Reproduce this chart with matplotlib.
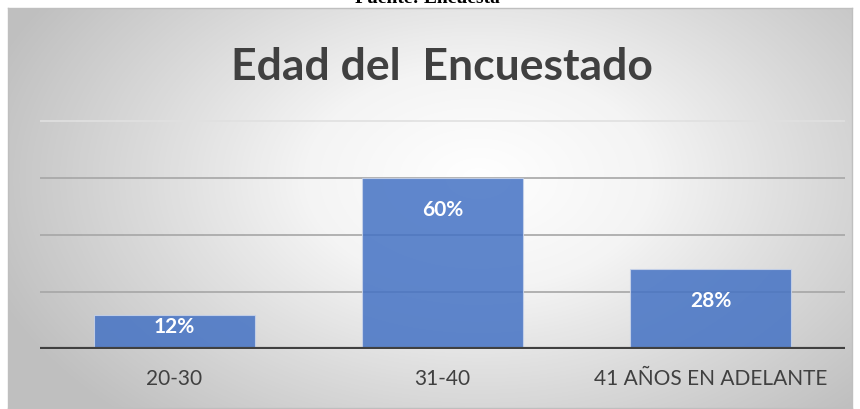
import numpy as np
import matplotlib.pyplot as plt
from matplotlib.colors import LinearSegmentedColormap

categories = ["20-30", "31-40", "41 AÑOS EN ADELANTE"]
values = [0.12, 0.60, 0.28]
labels = ["12%", "60%", "28%"]
title = "Edad del  Encuestado"
source = "Fuente: Encuesta"

plt.rcParams['font.family'] = ['Lato', 'DejaVu Sans']

W, H = 860, 410
fig = plt.figure(figsize=(W / 100, H / 100), dpi=100)
fig.patch.set_facecolor("white")

# chart box with radial gradient background
bx0, by0, bx1, by1 = 8, 9, 852, 409
bg = fig.add_axes([bx0 / W, 1 - by1 / H, (bx1 - bx0) / W, (by1 - by0) / H])
yy, xx = np.mgrid[0:400, 0:844]
r = np.sqrt(((xx - 470) / 520) ** 2 + ((yy - 170) / 330) ** 2)
cmap = LinearSegmentedColormap.from_list("bg", ["#ffffff", "#f4f4f4", "#d9d9d9", "#bfbfbf"])
bg.imshow(np.clip(r, 0, 1), cmap=cmap, vmin=0, vmax=1, aspect="auto")
bg.set_xticks([])
bg.set_yticks([])
for s in bg.spines.values():
    s.set_color("#bfbfbf")
    s.set_linewidth(1)

# caption above the box, mostly cut off by the top edge as in the source image
fig.text(427 / W, 1 - 3 / H, source, ha="center", va="baseline", fontsize=14,
         fontweight="bold", family="Liberation Serif", color="black")

# plot area
px0, px1 = 40, 845
py_top, py_base = 65, 350
ax = fig.add_axes([px0 / W, 1 - py_base / H, (px1 - px0) / W, (py_base - py_top) / H])
ax.patch.set_alpha(0)
ax.set_xlim(-0.5, 2.5)
ax.set_ylim(0, 1.0)

x = np.arange(len(categories))
for g in [0.2, 0.4, 0.6]:
    ax.axhline(g, color="#a6a6a6", linewidth=1.2, zorder=1)
ax.axhline(0.8, color="#e0e0e0", linewidth=1.2, zorder=1)

bars = ax.bar(x, values, width=0.6, color="#4472c4", alpha=0.85,
              edgecolor="#c9d4ea", linewidth=0.8, zorder=2)
for b, lab in zip(bars, labels):
    h = b.get_height()
    off = 0.072 if h > 0.2 else 0.004
    ax.text(b.get_x() + b.get_width() / 2, h - off, lab,
            ha="center", va="top", color="white", fontsize=15, fontweight="bold", zorder=3)

ax.axhline(0, color="#404040", linewidth=3, zorder=4)
ax.set_xticks(x)
ax.set_xticklabels(categories, fontsize=15, color="#404040")
ax.tick_params(axis="x", length=0, pad=14)
ax.set_yticks([])
for s in ax.spines.values():
    s.set_visible(False)

fig.text(442 / W, 1 - 80 / H, title, ha="center", va="baseline", fontsize=32,
         fontweight="bold", color="#404040")

fig.savefig("out.png", dpi=100)
